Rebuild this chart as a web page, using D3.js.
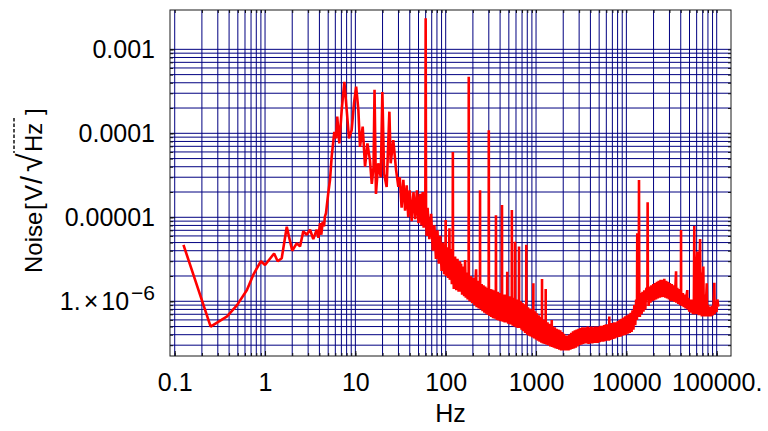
<!DOCTYPE html>
<html><head><meta charset="utf-8">
<script src="https://cdn.jsdelivr.net/npm/d3@7"></script>
<style>
html,body{margin:0;padding:0;background:#fff;}
svg{display:block;font-family:"Liberation Sans",Arial,Helvetica,sans-serif;}
</style></head><body>
<svg id="chart" width="768" height="431"></svg>
<script>
// ---- tick labels ----
const xTickValues = [0.1, 1, 10, 100, 1000, 10000, 100000];
const xTickLabels = ["0.1", "1", "10", "100", "1000", "10000", "100000."];
const yTickValues = [1e-6, 1e-5, 1e-4, 1e-3];
const yTickLabels = ["1.×10^-6", "0.00001", "0.0001", "0.001"];
const xTitle = "Hz";

// ---- spectrum [frequency Hz, noise V/sqrt(Hz)] ----
const lowBand = [
 [0.125,4.7e-6],[0.25,5.0e-7],[0.38,6.6e-7],[0.49,9.0e-7],[0.63,1.36e-6],[0.74,2.06e-6],[0.9,3.0e-6],[1.0,2.7e-6],
 [1.26,3.7e-6],[1.38,3.0e-6],[1.53,3.25e-6],[1.74,7.7e-6],[2.0,4.0e-6],[2.24,4.9e-6],[2.44,4.5e-6],[2.65,6.8e-6],
 [2.89,6.2e-6],[3.15,7.1e-6],[3.42,5.5e-6],[3.73,7.1e-6],[3.9,5.7e-6],[4.06,8.5e-6],[4.2,6.2e-6],[4.35,8.9e-6],
 [4.5,7.8e-6],[4.6,1.02e-5],[4.73,1.12e-5],[5.0,1.9e-5],[5.24,2.8e-5],[5.47,5.3e-5],[5.85,1.04e-4],[6.1,8.7e-5],
 [6.3,1.58e-4],[6.64,7.6e-5],[7.06,1.89e-4],[7.55,4.1e-4],[8.02,1.89e-4],[8.5,8.7e-5],[9.1,1.09e-4],[9.66,2.28e-4],
 [10.2,3.6e-4],[10.8,1.89e-4],[11.25,6.9e-5],[12.05,1.2e-4],[12.8,4.0e-5],[13.6,7.6e-5],[14.5,4.8e-5],[15.2,2.5e-5],
 [15.9,4.0e-5],[16.3,3.3e-4],[16.9,1.9e-5],[17.9,4.4e-5],[19.1,3.0e-5],[19.9,3.1e-4],[20.8,3.3e-5],[22.2,2.3e-5],
 [23.8,1.81e-4],[24.6,4.4e-5],[26.3,8.3e-5],[28.2,3.7e-5],[29.9,2.3e-5]
];
const midBand = [
 [31,3.0e-5],[32.5,1.3e-5],[34,2.8e-5],[35.5,1.2e-5],[37,2.4e-5],[38.5,1.0e-5],[40,2.1e-5],[42,9.0e-6],
 [44,2.0e-5],[46,9.5e-6],[48,2.1e-5],[50,8.5e-6],[52,1.9e-5],[54,8.0e-6],[55.6,2.0e-5],[57,7.5e-6],
 [58.5,1.5e-5],[59.5,1.2e-5],[60,2.35e-3],[60.6,1.2e-5],[61.5,6.0e-6],[63,1.3e-5],[66,5.5e-6],[69,1.1e-5],
 [72,4.0e-6],[75,8.0e-6],[78,3.2e-6],[81,7.0e-6],[84,2.8e-6],[87,6.0e-6],[90,2.3e-6],[93,5.0e-6],
 [96,2.1e-6],[98,4.5e-6],[99.5,3.0e-6],[100,9.3e-6],[100.5,2.0e-6],[103,4.4e-6],[106,1.9e-6],[109,3.5e-6],
 [110,7.4e-6],[111,1.8e-6],[114,4.2e-6],[117,1.6e-6],[119.5,3.0e-6],[120,6.0e-5],[120.5,3.0e-6],[123,1.4e-6],
 [127,3.4e-6],[131,1.35e-6],[135,3.2e-6],[139,1.3e-6],[144,3.0e-6],[145,1.3e-6],[148,2.8e-6],[152,1.2e-6],
 [156,2.6e-6],[160,1.15e-6],[164,3.1e-6],[167,1.1e-6],[171,2.2e-6],[175,1.05e-6],[179.5,1.9e-6],[180,4.7e-4],
 [180.5,1.9e-6],[184,1.0e-6],[190,2.0e-6],[196,9.5e-7],[202,1.9e-6],[208,9.0e-7],[214,1.8e-6],[217,2.4e-6],
 [220,8.5e-7],[226,1.75e-6],[232,8.2e-7],[238,1.7e-6],[239.5,1.5e-6],[240,2.1e-5],[240.5,1.5e-6],[244,8.0e-7],
 [250,1.6e-6],[256,7.6e-7],[262,1.55e-6],[268,7.3e-7],[274,1.5e-6],[280,7.1e-7],[286,1.45e-6],[292,6.9e-7],
 [299,1.4e-6],[300,1.09e-4],[301,1.4e-6],[306,6.7e-7],[313,1.4e-6],[320,6.5e-7],[327,1.38e-6],[334,6.3e-7],
 [342,1.35e-6],[350,6.2e-7],[359,1.3e-6],[360,1.06e-5],[361,1.3e-6],[368,6.0e-7],[377,1.3e-6],[386,5.9e-7],
 [395,1.25e-6],[404,5.8e-7],[413,1.25e-6],[419,1.2e-6],[420,1.4e-5],[421,1.2e-6],[430,5.7e-7],[440,1.2e-6],
 [450,5.6e-7],[462,1.2e-6],[470,5.6e-7],[479,1.15e-6],[480,2.25e-6],[481,1.15e-6],[492,5.4e-7],[504,1.15e-6],
 [516,5.3e-7],[528,1.1e-6],[539,1.1e-6],[540,1.22e-5],[541,1.1e-6],[552,5.1e-7],[565,1.1e-6],[576,5.0e-7],
 [584,1.1e-6],[585,5.1e-6],[586,1.1e-6],[598,4.9e-7],[612,1.05e-6],[626,4.8e-7],[640,1.05e-6],[647,1.0e-6],
 [648,4.5e-6],[649,1.0e-6],[662,4.8e-7],[677,1.0e-6],[692,4.6e-7],[708,9.5e-7],[724,4.4e-7],[740,9.2e-7],
 [757,4.2e-7],[772,8.8e-7],[779,8.8e-7],[780,4.7e-6],[781,8.8e-7],[797,4.0e-7],[815,8.5e-7],[834,3.9e-7],
 [853,8.2e-7],[872,3.8e-7],[892,8.0e-7],[912,3.7e-7],[933,8.0e-7],[934,1.64e-6],[935,8.0e-7],[955,3.6e-7],
 [977,7.6e-7]
];
const highBand = [
 [1000,3.5e-7],[1023,7.2e-7],[1047,3.4e-7],[1071,6.8e-7],[1096,3.3e-7],[1121,6.5e-7],[1147,3.2e-7],[1164,6.2e-7],
 [1165,1.84e-6],[1166,6.2e-7],[1192,3.15e-7],[1220,6.0e-7],[1249,3.1e-7],[1279,5.9e-7],[1280,1.4e-6],[1281,5.9e-7],
 [1310,3.05e-7],[1340,5.6e-7],[1372,3.0e-7],[1404,5.4e-7],[1437,2.9e-7],[1470,5.2e-7],[1491,5.2e-7],[1492,6.0e-7],
 [1505,2.85e-7],[1540,5.0e-7],[1576,2.8e-7],[1613,4.9e-7],[1651,2.75e-7],[1690,4.7e-7],[1730,2.7e-7],[1770,4.6e-7],
 [1812,2.65e-7],[1855,4.5e-7],[1898,2.6e-7],[1943,4.3e-7],[1989,2.6e-7],[2036,4.1e-7],[2084,2.6e-7],[2133,3.9e-7],
 [2183,2.6e-7],[2235,3.9e-7],[2288,2.6e-7],[2342,4.0e-7],[2397,2.65e-7],[2453,4.2e-7],[2511,2.7e-7],[2570,4.4e-7],
 [2631,2.75e-7],[2693,4.5e-7],[2756,2.8e-7],[2821,4.6e-7],[2888,2.9e-7],[2956,4.7e-7],[3026,3.0e-7],[3097,4.8e-7],
 [3170,3.05e-7],[3245,4.9e-7],[3322,3.1e-7],[3400,4.9e-7],[3480,3.15e-7],[3562,4.9e-7],[3646,3.15e-7],[3732,5.0e-7],
 [3820,3.1e-7],[3910,4.9e-7],[4002,3.15e-7],[4096,5.0e-7],[4193,3.15e-7],[4292,4.9e-7],[4393,3.2e-7],[4496,5.0e-7],
 [4602,3.2e-7],[4711,5.0e-7],[4822,3.2e-7],[4935,5.0e-7],[5052,3.25e-7],[5171,5.1e-7],[5293,3.3e-7],[5417,5.1e-7],
 [5545,3.3e-7],[5676,5.2e-7],[5810,3.35e-7],[5947,5.3e-7],[6087,3.4e-7],[6231,5.3e-7],[6378,3.4e-7],[6469,5.4e-7],
 [6470,6.6e-7],[6471,5.4e-7],[6528,3.45e-7],[6682,5.5e-7],[6840,3.5e-7],[7001,5.5e-7],[7166,3.55e-7],[7335,5.6e-7],
 [7508,3.6e-7],[7685,5.6e-7],[7866,3.7e-7],[8052,5.8e-7],[8242,3.75e-7],[8436,6.0e-7],[8635,3.8e-7],[8838,6.2e-7],
 [9047,3.9e-7],[9260,6.4e-7],[9479,3.95e-7],[9702,6.6e-7],[9931,4.0e-7],[10165,6.8e-7],[10405,4.1e-7],[10650,7.0e-7],
 [10902,4.2e-7],[11159,7.3e-7],[11422,4.3e-7],[11692,7.8e-7],[11968,4.6e-7],[12250,9.0e-7],[12539,5.2e-7],[12835,1.05e-6],
 [13100,6.0e-7],[13200,6.45e-6],[13300,7.0e-7],[13500,1.2e-6],[13700,6.5e-7],[13800,2.78e-5],[13900,1.2e-6],[14100,6.5e-7],
 [14400,1.25e-6],[14750,7.0e-7],[15100,1.3e-6],[15450,7.5e-7],[15800,1.35e-6],[16200,8.0e-7],[16600,1.4e-6],[17100,1.45e-6],
 [17200,1.51e-5],[17300,1.45e-6],[17650,8.8e-7],[18100,1.5e-6],[18500,9.6e-7],[18950,1.55e-6],[19400,1.0e-6],[19850,1.6e-6],
 [20300,1.02e-6],[20800,1.65e-6],[21300,1.05e-6],[21800,1.7e-6],[22300,1.08e-6],[22800,1.75e-6],[23400,1.1e-6],[23900,1.8e-6],
 [24500,1.12e-6],[25100,1.8e-6],[25700,1.13e-6],[26300,1.85e-6],[26900,1.1e-6],[27600,1.75e-6],[28200,1.08e-6],[28900,1.7e-6],
 [29600,1.05e-6],[30300,1.65e-6],[31000,1.0e-6],[31800,1.6e-6],[32500,1.0e-6],[33300,1.55e-6],[34100,9.8e-7],[34900,1.5e-6],
 [35500,2.28e-6],[35700,9.6e-7],[36600,1.45e-6],[37500,9.3e-7],[38400,1.4e-6],[39300,9.0e-7],[40200,1.35e-6],[40300,7.06e-6],
 [40400,1.3e-6],[41200,8.8e-7],[42200,1.25e-6],[43200,8.5e-7],[44200,1.2e-6],[45300,8.2e-7],[46300,1.15e-6],[47300,1.36e-6],
 [47400,8.0e-7],[48500,1.1e-6],[49700,7.5e-7],[50900,1.05e-6],[52100,7.3e-7],[53300,1.05e-6],[54600,7.0e-7],[55900,1.0e-6],
 [56500,7.87e-6],[57200,7.0e-7],[58500,2.5e-6],[59500,7.0e-7],[60400,3.0e-6],[61100,3.9e-6],[61800,7.0e-7],[62500,2.0e-6],
 [63500,6.8e-7],[64500,2.5e-6],[65500,5.5e-6],[66300,6.8e-7],[67500,2.2e-6],[68500,6.6e-7],[70000,1.6e-6],[71100,2.6e-6],
 [72000,6.6e-7],[73500,1.2e-6],[75000,6.6e-7],[76500,1.1e-6],[77600,1.64e-6],[78500,6.6e-7],[80500,9.0e-7],[82400,6.6e-7],
 [84300,8.6e-7],[86300,6.6e-7],[88300,8.8e-7],[90300,6.8e-7],[92400,9.2e-7],[94200,1.66e-6],[95000,7.0e-7],[97200,9.8e-7],
 [99500,7.4e-7],[101800,1.05e-6],[104000,8.6e-7]
];

// ---- layout ----
const plot = {left: 170, right: 731, top: 10, bottom: 356};
const x = d3.scaleLog().domain([0.0887, 1.44e5]).range([plot.left, plot.right]);
const y = d3.scaleLog().domain([2.23e-7, 2.94e-3]).range([plot.bottom, plot.top]);
const svg = d3.select("#chart");
const FONT = "'Liberation Sans', Arial, Helvetica, sans-serif";
const GRID = "#000080";

const xGrid = x.ticks().filter(d => d >= 0.0999 && d <= 1.0001e5);
const yGrid = y.ticks().filter(d => d <= 1.0001e-3);

// grid lines
const grid = svg.append("g");
grid.selectAll("line.v").data(xGrid).join("line").attr("class","v")
  .attr("x1", d => x(d)).attr("x2", d => x(d)).attr("y1", plot.top).attr("y2", plot.bottom)
  .attr("stroke", GRID).attr("stroke-width", 1);
grid.selectAll("line.h").data(yGrid).join("line").attr("class","h")
  .attr("y1", d => y(d)).attr("y2", d => y(d)).attr("x1", plot.left).attr("x2", plot.right)
  .attr("stroke", GRID).attr("stroke-width", 1);

// data line
svg.append("defs").append("clipPath").attr("id","clip").append("rect")
  .attr("x", plot.left).attr("y", plot.top).attr("width", plot.right - plot.left).attr("height", plot.bottom - plot.top);
const spectrum = lowBand.concat(midBand, highBand);
const line = d3.line().x(d => x(d[0])).y(d => y(d[1]));
svg.append("path").datum(spectrum).attr("clip-path","url(#clip)")
  .attr("d", line).attr("fill","none").attr("stroke","#ff0000")
  .attr("stroke-width", 2.6).attr("stroke-linejoin","bevel");

// frame
svg.append("rect").attr("x", plot.left).attr("y", plot.top)
  .attr("width", plot.right - plot.left).attr("height", plot.bottom - plot.top)
  .attr("fill","none").attr("stroke","#1a1a1a").attr("stroke-width",1);

function styleAxis(g){
  g.select(".domain").remove();
  g.selectAll(".tick line").attr("stroke","#111");
  g.attr("font-family", FONT).attr("font-size", 25);
  g.selectAll(".tick text").attr("fill","#000");
}
// minor ticks on all four sides
svg.append("g").attr("transform",`translate(0,${plot.bottom})`)
  .call(d3.axisBottom(x).tickValues(xGrid).tickSize(-3).tickFormat("")).call(styleAxis);
svg.append("g").attr("transform",`translate(0,${plot.top})`)
  .call(d3.axisTop(x).tickValues(xGrid).tickSize(-3).tickFormat("")).call(styleAxis);
svg.append("g").attr("transform",`translate(${plot.left},0)`)
  .call(d3.axisLeft(y).tickValues(yGrid).tickSize(-3).tickFormat("")).call(styleAxis);
svg.append("g").attr("transform",`translate(${plot.right},0)`)
  .call(d3.axisRight(y).tickValues(yGrid).tickSize(-3).tickFormat("")).call(styleAxis);

// major ticks with labels
svg.append("g").attr("transform",`translate(0,${plot.bottom})`)
  .call(d3.axisBottom(x).tickValues(xTickValues).tickSize(-5).tickPadding(17)
    .tickFormat((d,i) => xTickLabels[i])).call(styleAxis);
const yAxisG = svg.append("g").attr("transform",`translate(${plot.left},0)`)
  .call(d3.axisLeft(y).tickValues(yTickValues).tickSize(-5).tickPadding(15)
    .tickFormat((d,i) => yTickLabels[i])).call(styleAxis);
yAxisG.selectAll(".tick text").each(function(d,i){
  const s = yTickLabels[i];
  if (s.indexOf("^") >= 0) {
    const [base, exp] = s.split("^");
    const [mant, pow] = base.split("×");
    const t = d3.select(this).text("");
    t.append("tspan").text(mant);
    t.append("tspan").attr("dx", 3).text("×");
    t.append("tspan").attr("dx", 3).text(pow);
    t.append("tspan").attr("font-size", 21).attr("dy", -10).attr("dx", 2).text(exp.replace("-", "\u2212"));
  }
});

// axis titles
svg.append("text").attr("x", (plot.left + plot.right) / 2).attr("y", 422)
  .attr("text-anchor","middle").attr("font-family", FONT).attr("font-size", 25).text(xTitle);

const yt = svg.append("text").attr("transform","translate(42,0) rotate(-90)")
  .attr("font-family", FONT).attr("font-size", 24).attr("fill","#000");
yt.append("tspan").attr("x", -273).text("Noise");
yt.append("tspan").attr("x", -210).text("[");
yt.append("tspan").attr("x", -201).text("V");
yt.append("tspan").attr("x", -184).attr("font-size", 29).text("/");
yt.append("tspan").attr("x", -172).attr("font-size", 34).text("\u221A");
yt.append("tspan").attr("x", -152).text("Hz");
yt.append("tspan").attr("x", -115).text("]");
svg.append("line").attr("x1", 14).attr("x2", 14).attr("y1", 118).attr("y2", 153)
  .attr("stroke","#000").attr("stroke-width",1.4).attr("stroke-dasharray","3.5,2");
</script>
</body></html>
